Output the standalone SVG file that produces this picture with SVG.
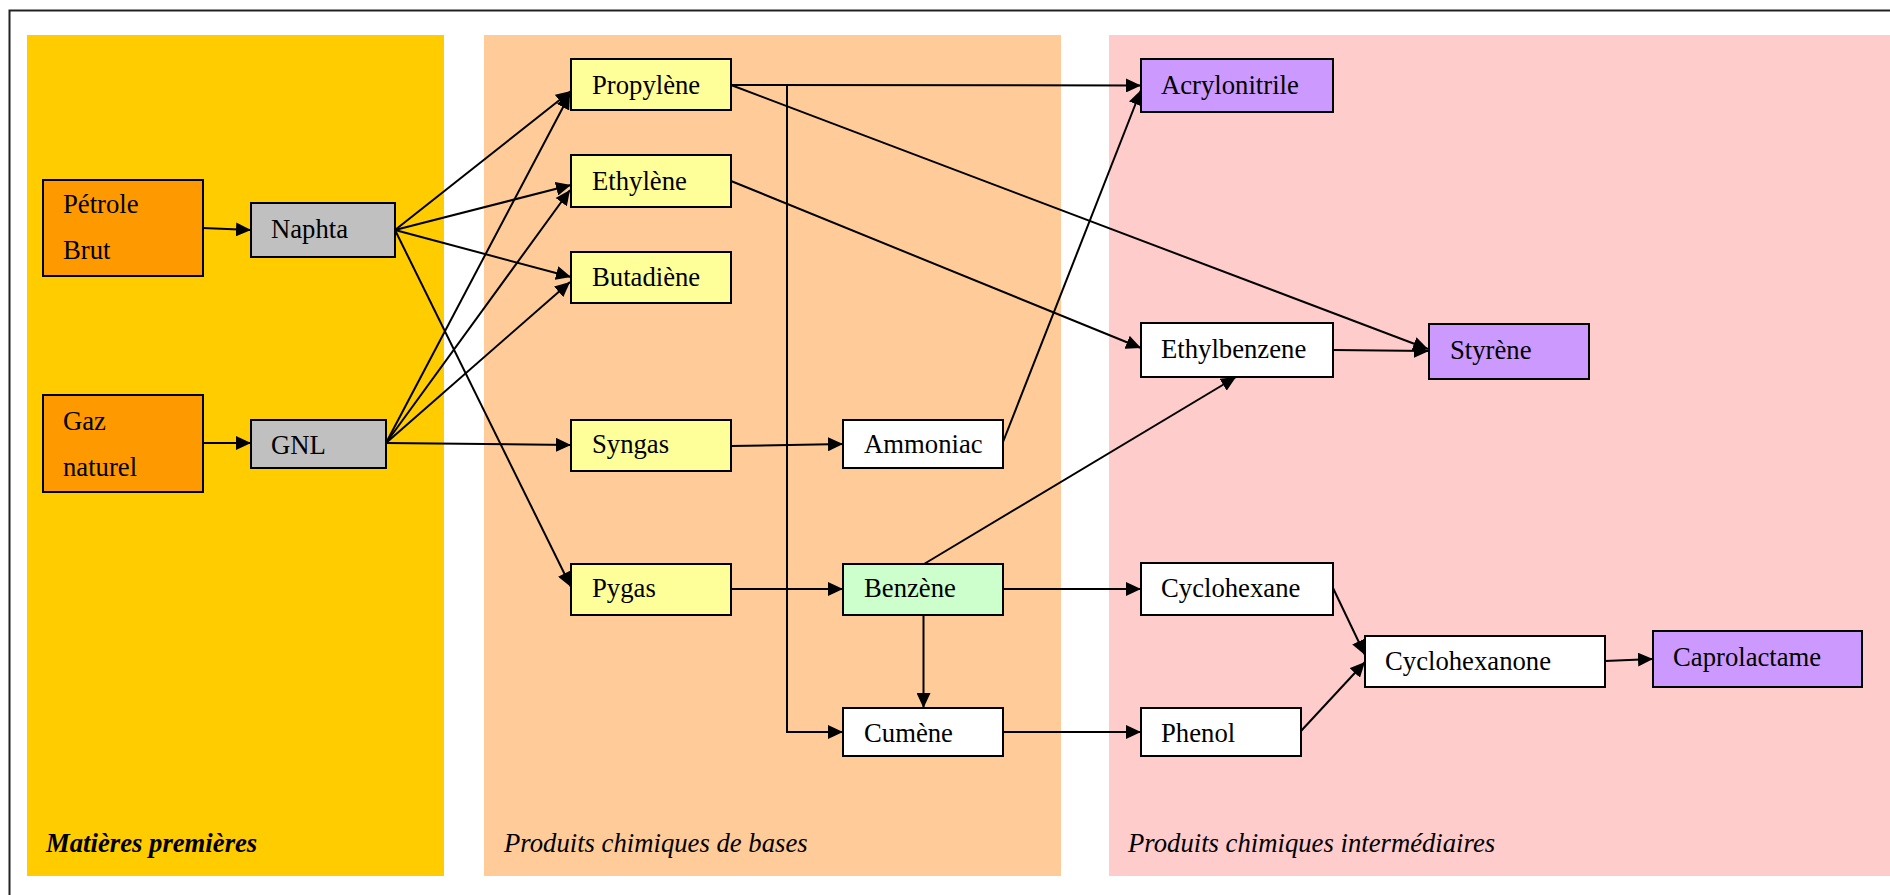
<svg xmlns="http://www.w3.org/2000/svg" width="1890" height="895" viewBox="0 0 1890 895">
<style>
.node rect{stroke:#000;stroke-width:2}
.node text,.lbl{font-family:"Liberation Serif","Times New Roman",serif;font-size:26.7px;fill:#000}
.lbl{font-style:italic}
.raw{fill:#FF9900}.feed{fill:#C0C0C0}.base{fill:#FFFF99}.benz{fill:#CCFFCC}.fin{fill:#CC99FF}.plain{fill:#FFFFFF}
#connectors line,#connectors polyline{stroke:#000;stroke-width:2;fill:none}
.arr{marker-end:url(#ah)}
</style>
<defs>
<marker id="ah" viewBox="0 0 15 14" refX="15" refY="7" markerWidth="15" markerHeight="14" markerUnits="userSpaceOnUse" orient="auto">
<path d="M0,0 L15,7 L0,14 Z" fill="#000"/>
</marker>
</defs>
<rect x="0" y="0" width="1890" height="895" fill="#fff"/>
<rect x="9.5" y="10.5" width="1900" height="900" fill="none" stroke="#222" stroke-width="2"/>
<g id="panels">
<rect x="27" y="35" width="417" height="841" fill="#FFCC00"/>
<rect x="484" y="35" width="577" height="841" fill="#FFCC99"/>
<rect x="1109" y="35" width="781" height="841" fill="#FFCCCC"/>
<text class="lbl" x="46" y="852" font-weight="bold">Matières premières</text>
<text class="lbl" x="504" y="852">Produits chimiques de bases</text>
<text class="lbl" x="1128" y="852">Produits chimiques intermédiaires</text>
</g>
<g id="connectors">
<line class="arr" x1="203" y1="228" x2="251" y2="230"/>
<line class="arr" x1="203" y1="443" x2="251" y2="443"/>
<line class="arr" x1="395" y1="230" x2="571" y2="91"/>
<line class="arr" x1="395" y1="230" x2="571" y2="185"/>
<line class="arr" x1="395" y1="230" x2="571" y2="277"/>
<line class="arr" x1="395" y1="230" x2="571" y2="587"/>
<line class="arr" x1="386" y1="443" x2="570" y2="94"/>
<line class="arr" x1="386" y1="443" x2="570" y2="190"/>
<line class="arr" x1="386" y1="443" x2="570" y2="282"/>
<line class="arr" x1="386" y1="443" x2="571" y2="445"/>
<line class="arr" x1="731" y1="85" x2="1141" y2="85.5"/>
<line class="arr" x1="731" y1="85" x2="1428" y2="349"/>
<polyline class="arr" points="787,85 787,732 843,732"/>
<line class="arr" x1="731" y1="181" x2="1141" y2="348"/>
<line class="arr" x1="731" y1="446" x2="843" y2="444"/>
<line class="arr" x1="731" y1="589" x2="843" y2="589"/>
<line class="arr" x1="1003" y1="442" x2="1141" y2="90"/>
<line class="arr" x1="924" y1="564" x2="1236" y2="377"/>
<line class="arr" x1="1003" y1="589" x2="1141" y2="589"/>
<line class="arr" x1="923.5" y1="615" x2="923.5" y2="708"/>
<line class="arr" x1="1003" y1="732" x2="1141" y2="732"/>
<line class="arr" x1="1333" y1="350" x2="1429" y2="351"/>
<line class="arr" x1="1333" y1="588" x2="1365" y2="655"/>
<line class="arr" x1="1301" y1="731" x2="1365" y2="662"/>
<line class="arr" x1="1605" y1="661" x2="1653" y2="659"/>
</g>
<g id="petrole" class="node"><rect class="raw" x="43" y="180" width="160" height="96"/><text x="63" y="213">Pétrole</text><text x="63" y="259">Brut</text></g>
<g id="gaz" class="node"><rect class="raw" x="43" y="395" width="160" height="97"/><text x="63" y="430">Gaz</text><text x="63" y="476">naturel</text></g>
<g id="naphta" class="node"><rect class="feed" x="251" y="203" width="144" height="54"/><text x="271" y="238">Naphta</text></g>
<g id="gnl" class="node"><rect class="feed" x="251" y="420" width="135" height="48"/><text x="271" y="454">GNL</text></g>
<g id="propylene" class="node"><rect class="base" x="571" y="59" width="160" height="51"/><text x="592" y="94">Propylène</text></g>
<g id="ethylene" class="node"><rect class="base" x="571" y="155" width="160" height="52"/><text x="592" y="190">Ethylène</text></g>
<g id="butadiene" class="node"><rect class="base" x="571" y="252" width="160" height="51"/><text x="592" y="286">Butadiène</text></g>
<g id="syngas" class="node"><rect class="base" x="571" y="420" width="160" height="51"/><text x="592" y="453">Syngas</text></g>
<g id="pygas" class="node"><rect class="base" x="571" y="564" width="160" height="51"/><text x="592" y="597">Pygas</text></g>
<g id="ammoniac" class="node"><rect class="plain" x="843" y="420" width="160" height="48"/><text x="864" y="453">Ammoniac</text></g>
<g id="benzene" class="node"><rect class="benz" x="843" y="564" width="160" height="51"/><text x="864" y="597">Benzène</text></g>
<g id="cumene" class="node"><rect class="plain" x="843" y="708" width="160" height="48"/><text x="864" y="742">Cumène</text></g>
<g id="acrylonitrile" class="node"><rect class="fin" x="1141" y="59" width="192" height="53"/><text x="1161" y="94">Acrylonitrile</text></g>
<g id="ethylbenzene" class="node"><rect class="plain" x="1141" y="323" width="192" height="54"/><text x="1161" y="358">Ethylbenzene</text></g>
<g id="styrene" class="node"><rect class="fin" x="1429" y="324" width="160" height="55"/><text x="1450" y="359">Styrène</text></g>
<g id="cyclohexane" class="node"><rect class="plain" x="1141" y="563" width="192" height="52"/><text x="1161" y="597">Cyclohexane</text></g>
<g id="phenol" class="node"><rect class="plain" x="1141" y="708" width="160" height="48"/><text x="1161" y="742">Phenol</text></g>
<g id="cyclohexanone" class="node"><rect class="plain" x="1365" y="636" width="240" height="51"/><text x="1385" y="670">Cyclohexanone</text></g>
<g id="caprolactame" class="node"><rect class="fin" x="1653" y="631" width="209" height="56"/><text x="1673" y="666">Caprolactame</text></g>
</svg>
